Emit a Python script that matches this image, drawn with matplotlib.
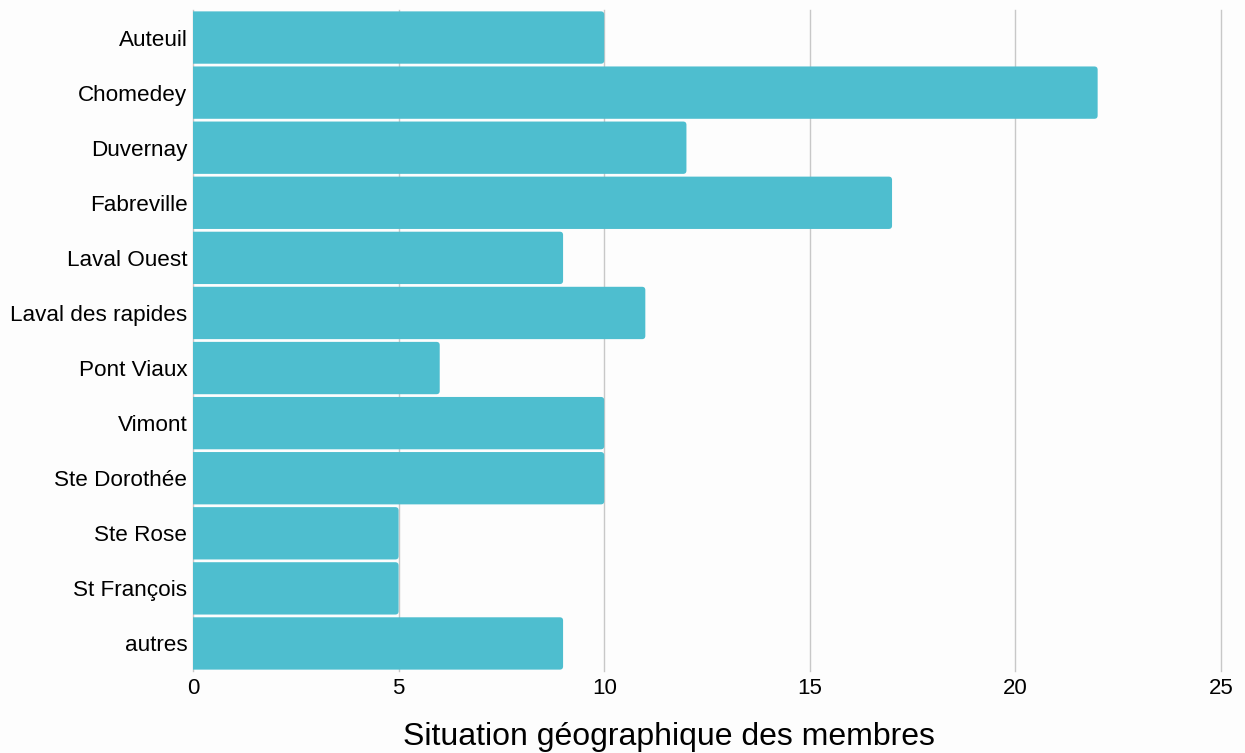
import matplotlib.pyplot as plt
from matplotlib.patches import FancyBboxPatch

# donnees
quartiers = ["Auteuil", "Chomedey", "Duvernay", "Fabreville", "Laval Ouest",
             "Laval des rapides", "Pont Viaux", "Vimont", "Ste Dorothée",
             "Ste Rose", "St François", "autres"]
membres = [10, 22, 12, 17, 9, 11, 6, 10, 10, 5, 5, 9]
ticks_x = [0, 5, 10, 15, 20, 25]

couleur = "#4EBECF"
fond = "#FDFDFD"

plt.rcParams['font.family'] = ['Liberation Sans', 'DejaVu Sans']

fig = plt.figure(figsize=(12.45, 7.53), dpi=100, facecolor=fond)
ax = fig.add_axes([193 / 1245, 1 - 671 / 753, (1221 - 193) / 1245, (671 - 10) / 753])
ax.set_facecolor(fond)

ypos = list(range(len(quartiers)))
h = 0.95
# barres arrondies a droite (le cote gauche est coupe par l'axe)
for y, v in zip(ypos, membres):
    p = FancyBboxPatch((-0.2, y - h / 2), v + 0.2, h,
                       boxstyle="round,pad=0,rounding_size=0.08",
                       mutation_aspect=0.74,
                       facecolor=couleur, edgecolor="none", zorder=3)
    ax.add_patch(p)

ax.set_xlim(0, 25)
ax.set_ylim(len(quartiers) - 0.5, -0.5)
ax.set_yticks(ypos)
ax.set_yticklabels(quartiers, fontsize=16.2)
ax.set_xticks(ticks_x)
ax.set_xticklabels([str(t) for t in ticks_x], fontsize=16)
ax.tick_params(length=0, pad=5)
ax.tick_params(axis='y', pad=4)

for s in ax.spines.values():
    s.set_visible(False)
ax.grid(axis='x', color="#C8C8C8", linewidth=1, zorder=0)
for gl in ax.get_xgridlines():
    gl.set_clip_on(False)
ax.set_axisbelow(True)

fig.text(669 / 1245, 1 - 737 / 753, "Situation géographique des membres",
         fontsize=23, ha='center', va='center')

plt.savefig("out.png", dpi=100, facecolor=fond)
plt.close()
